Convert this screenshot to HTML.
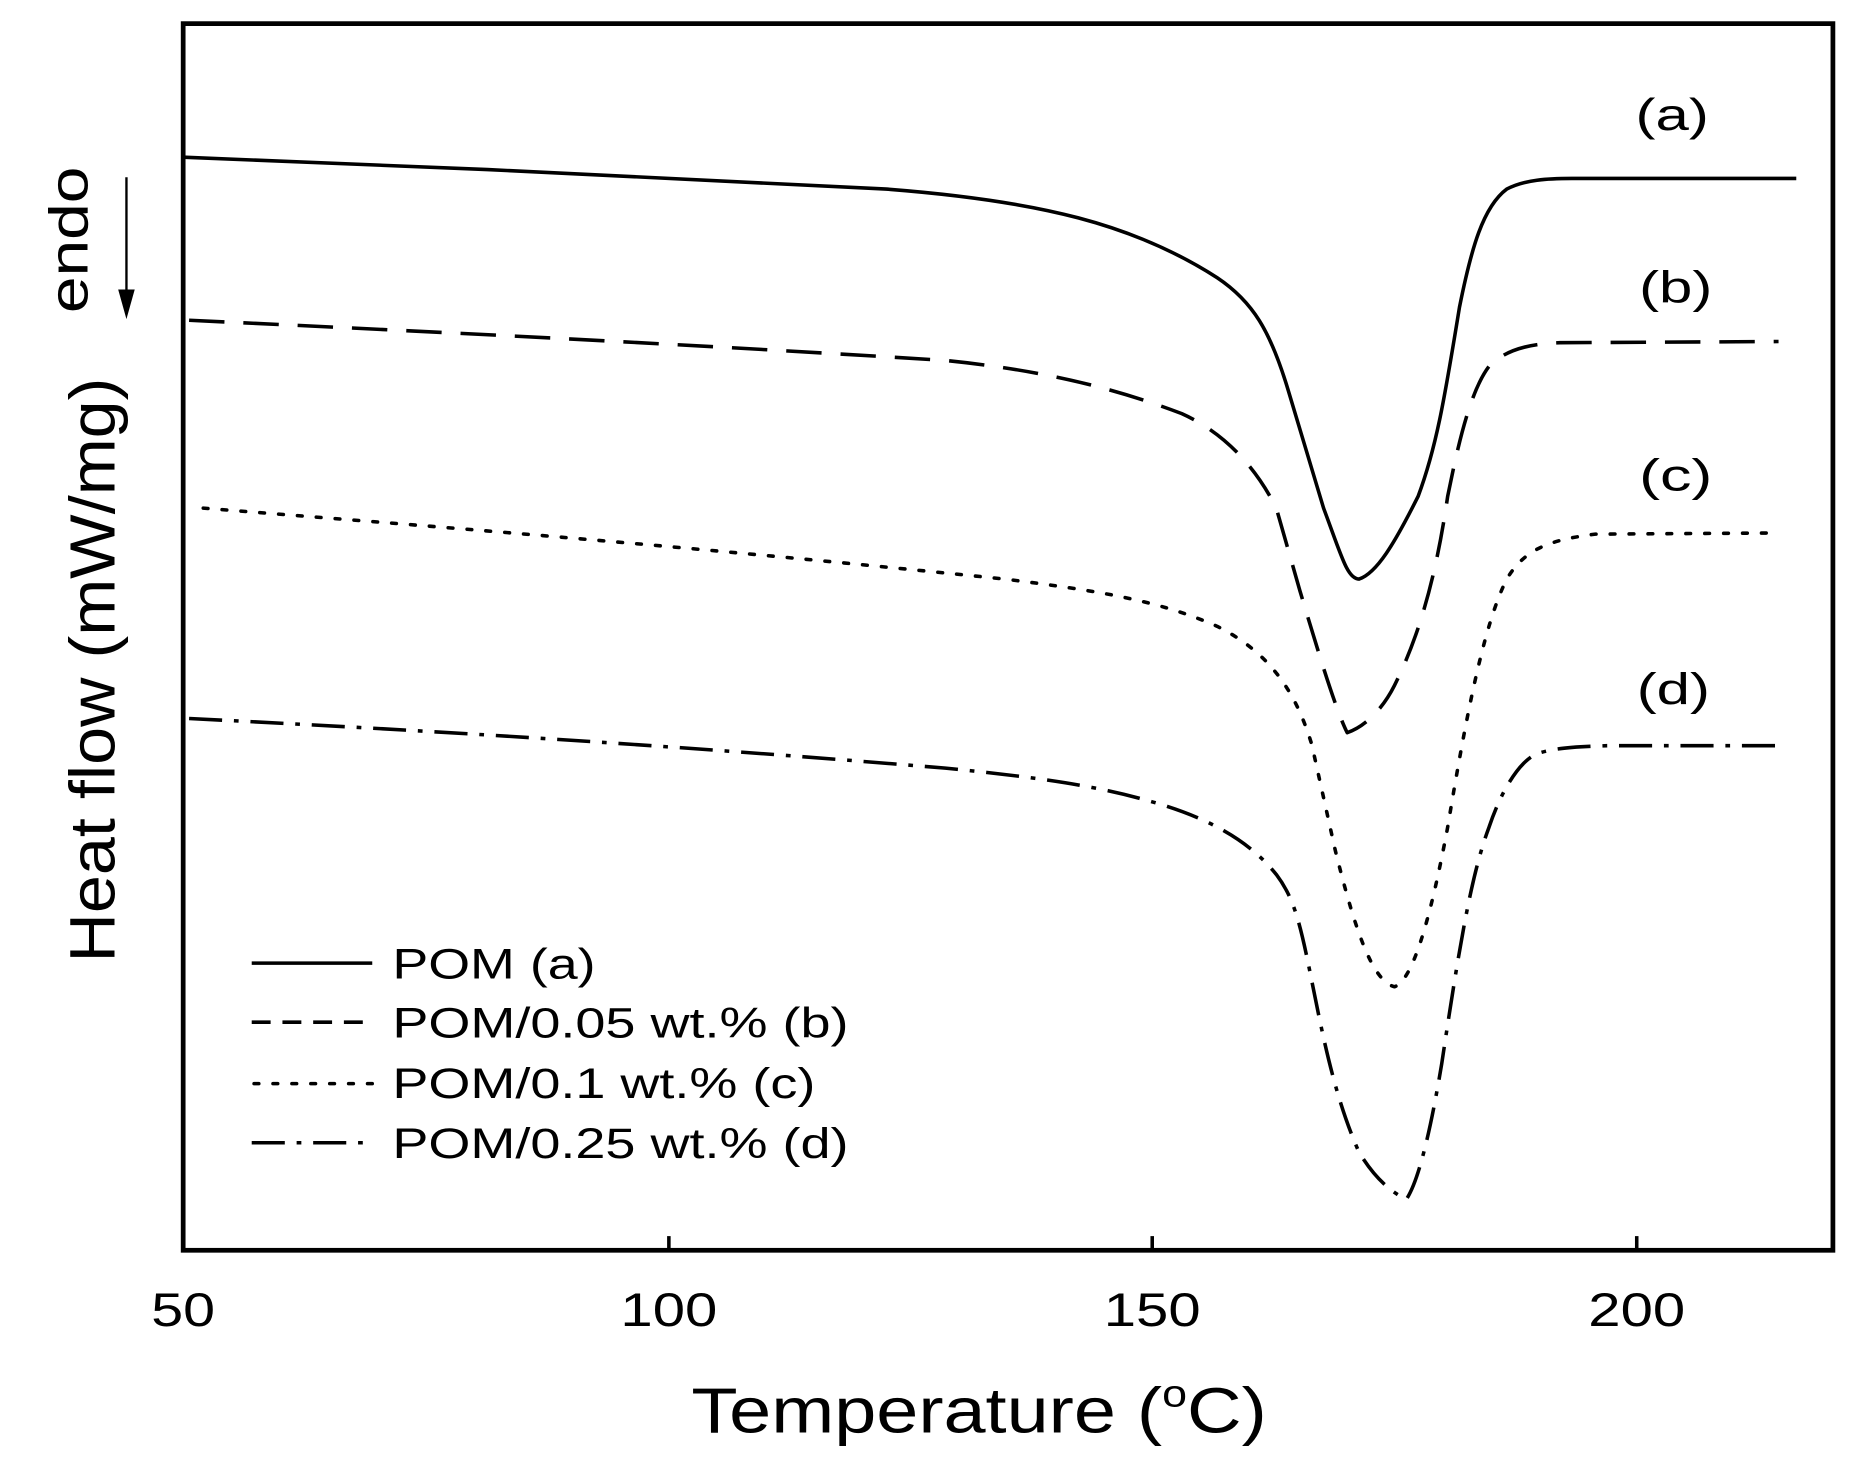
<!DOCTYPE html>
<html><head><style>html,body{margin:0;padding:0;background:#fff}svg{display:block}</style></head>
<body>
<svg width="1853" height="1476" viewBox="0 0 1568 1249" preserveAspectRatio="none" xmlns="http://www.w3.org/2000/svg" font-family="Liberation Sans, Arial, sans-serif">
<rect x="155" y="20" width="1396" height="1038" fill="none" stroke="#000" stroke-width="4"/>
<g stroke="#000" stroke-width="3">
<line x1="566" y1="1058" x2="566" y2="1046"/><line x1="975" y1="1058" x2="975" y2="1046"/><line x1="1385" y1="1058" x2="1385" y2="1046"/>
</g>
<g font-size="40" text-anchor="middle" lengthAdjust="spacingAndGlyphs">
<text x="155" y="1122" textLength="54" lengthAdjust="spacingAndGlyphs">50</text>
<text x="566" y="1122" textLength="82" lengthAdjust="spacingAndGlyphs">100</text>
<text x="975" y="1122" textLength="82" lengthAdjust="spacingAndGlyphs">150</text>
<text x="1385" y="1122" textLength="82" lengthAdjust="spacingAndGlyphs">200</text>
</g>
<text x="585" y="1212" font-size="54" textLength="487" lengthAdjust="spacingAndGlyphs">Temperature (<tspan font-size="32" dy="-22">o</tspan><tspan dy="22">C)</tspan></text>
<text transform="translate(97,567) rotate(-90)" font-size="54" text-anchor="middle" textLength="495" lengthAdjust="spacingAndGlyphs">Heat  flow (mW/mg)</text>
<text transform="translate(74,203) rotate(-90)" font-size="46" text-anchor="middle" textLength="124" lengthAdjust="spacingAndGlyphs">endo</text>
<line x1="107" y1="150" x2="107" y2="250" stroke="#000" stroke-width="2"/>
<polygon points="100,245 114,245 107,270" fill="#000"/>
<g font-size="38" text-anchor="middle">
<text x="1415" y="110" textLength="62" lengthAdjust="spacingAndGlyphs">(a)</text>
<text x="1418" y="256" textLength="62" lengthAdjust="spacingAndGlyphs">(b)</text>
<text x="1418" y="415" textLength="62" lengthAdjust="spacingAndGlyphs">(c)</text>
<text x="1416" y="596" textLength="62" lengthAdjust="spacingAndGlyphs">(d)</text>
</g>
<g fill="none" stroke="#000" stroke-width="3" stroke-linejoin="round">
<path d="M155,133 C350,140 560,150 750,160 C880,170 960,190 1030,235 C1060,255 1075,280 1090,330 L1120,430 C1135,470 1140,490 1150,490 C1165,485 1180,460 1200,420 C1215,380 1222,340 1235,260 C1245,210 1255,175 1275,160 C1290,152 1310,151 1330,151 L1520,151"/>
<path stroke-dasharray="30,16" d="M160,271 C350,280 560,290 800,305 C900,315 960,335 1000,350 C1040,368 1065,400 1080,430 L1100,500 C1115,550 1130,600 1140,620 C1155,615 1170,600 1180,580 C1200,540 1215,490 1225,420 C1235,370 1245,330 1260,310 C1275,295 1295,291 1320,290 L1505,289"/>
<path stroke-dasharray="4,12" stroke-linecap="round" d="M172,430 C360,445 560,460 850,490 C930,500 980,508 1030,530 C1070,550 1095,580 1110,630 L1130,720 C1145,780 1160,830 1180,835 C1195,830 1210,780 1225,700 C1240,610 1255,530 1275,490 C1290,465 1310,457 1350,452 L1505,451"/>
<path stroke-dasharray="28,10,4,10" d="M160,608 C360,618 560,630 800,650 C880,658 930,665 980,680 C1030,695 1060,715 1080,740 C1095,760 1100,780 1110,830 C1120,880 1130,930 1150,975 C1165,1000 1180,1010 1190,1015 C1200,1000 1210,960 1220,900 C1235,800 1245,740 1260,700 C1270,670 1285,645 1300,638 C1315,633 1330,632 1360,631 L1510,631"/>
</g>
<g stroke="#000" stroke-width="3">
<line x1="213" y1="815" x2="315" y2="815"/>
<line x1="213" y1="865" x2="315" y2="865" stroke-dasharray="16,10"/>
<line x1="215" y1="917" x2="315" y2="917" stroke-dasharray="4,12" stroke-linecap="round"/>
<line x1="213" y1="967" x2="315" y2="967" stroke-dasharray="28,10,4,10"/>
</g>
<g font-size="36">
<text x="332" y="828" textLength="172" lengthAdjust="spacingAndGlyphs">POM (a)</text>
<text x="332" y="878" textLength="386" lengthAdjust="spacingAndGlyphs">POM/0.05 wt.% (b)</text>
<text x="332" y="929" textLength="358" lengthAdjust="spacingAndGlyphs">POM/0.1 wt.% (c)</text>
<text x="332" y="980" textLength="386" lengthAdjust="spacingAndGlyphs">POM/0.25 wt.% (d)</text>
</g>
</svg>
</body></html>
